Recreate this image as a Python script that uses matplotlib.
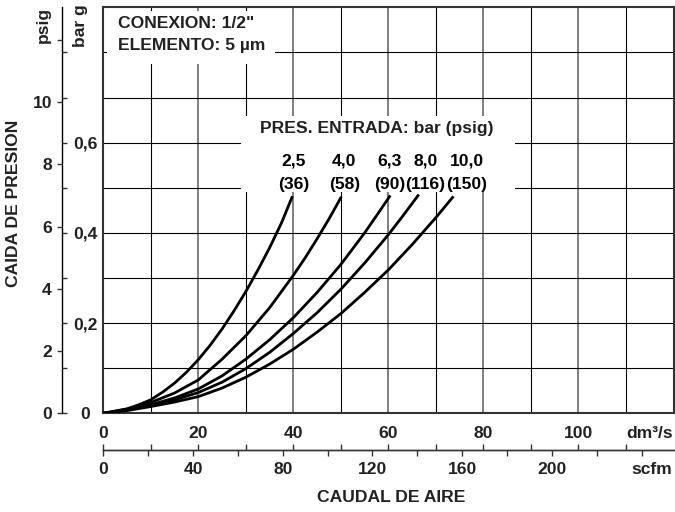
import matplotlib
matplotlib.use("Agg")
import matplotlib.pyplot as plt
from matplotlib.patches import Rectangle

plt.rcParams['font.family'] = ['Liberation Sans', 'DejaVu Sans']
plt.rcParams['font.weight'] = 'bold'
plt.rcParams['font.size'] = 12.6

# ------------------------------------------------------------
# datos: caudal (dm3/s) vs caida (bar g)
# ------------------------------------------------------------
flow_25 = [0, 5, 7.5, 10, 12.5, 15, 17.5, 20, 22.5, 25, 27.5, 30, 32.5, 35, 37.5, 39.8]
drop_25 = [0, 0.010, 0.019, 0.030, 0.047, 0.067, 0.091, 0.119, 0.151, 0.187, 0.227,
           0.270, 0.317, 0.367, 0.422, 0.481]

flow_40 = [0, 5, 10, 15, 20, 25, 30, 35, 40, 42.5, 45, 47.5, 50.1]
drop_40 = [0, 0.009, 0.024, 0.045, 0.074, 0.120, 0.172, 0.234, 0.306, 0.345, 0.387,
           0.431, 0.48]

flow_63 = [0, 5, 10, 15, 20, 25, 30, 35, 40, 45, 50, 55, 57.5, 60.4]
drop_63 = [0, 0.008, 0.019, 0.034, 0.054, 0.083, 0.120, 0.163, 0.212, 0.268, 0.330,
           0.400, 0.438, 0.483]

flow_80 = [0, 5, 10, 15, 20, 25, 30, 35, 40, 45, 50, 55, 60, 63, 66.4]
drop_80 = [0, 0.007, 0.017, 0.030, 0.046, 0.069, 0.099, 0.135, 0.177, 0.223, 0.275,
           0.333, 0.396, 0.437, 0.485]

flow_100 = [0, 5, 10, 15, 20, 25, 30, 35, 40, 45, 50, 55, 60, 65, 70, 73.7]
drop_100 = [0, 0.006, 0.015, 0.025, 0.037, 0.056, 0.080, 0.109, 0.142, 0.180, 0.221,
            0.268, 0.318, 0.374, 0.434, 0.481]

curves = [(flow_25, drop_25), (flow_40, drop_40), (flow_63, drop_63),
          (flow_80, drop_80), (flow_100, drop_100)]

pres_bar = ["2,5", "4,0", "6,3", "8,0", "10,0"]
pres_psig = ["(36)", "(58)", "(90)", "(116)", "(150)"]
label_x = [40.1, 50.7, 60.2, 67.8, 76.5]

flow_ticks = [0, 20, 40, 60, 80, 100]
grid_x = [10, 20, 30, 40, 50, 60, 70, 80, 90, 100, 110]
grid_y = [0.1, 0.2, 0.3, 0.4, 0.5, 0.6, 0.7, 0.8]

bar_ticks = [0, 0.1, 0.2, 0.3, 0.4, 0.5, 0.6, 0.7, 0.8]
bar_labels = ["0", "", "0,2", "", "0,4", "", "0,6", "", ""]
psig_ticks = [0, 2, 4, 6, 8, 10, 12]
psig_labels = ["0", "2", "4", "6", "8", "10", ""]
scfm_major = [0, 40, 80, 120, 160, 200]
scfm_minor = [20, 60, 100, 140, 180, 220, 240]

BAR_TO_PSI = 14.5038
DM3S_TO_SCFM = 2.1189

TXT = '#222222'
W, H = 675, 512


def fig_xy(x, y):
    """pixel -> fraccion de figura"""
    return x / W, 1 - y / H


fig = plt.figure(figsize=(W / 100, H / 100), dpi=100)
left, right, top, bottom = 103.3, 673.5, 7.3, 413.3
ax = fig.add_axes([left / W, 1 - bottom / H, (right - left) / W, (bottom - top) / H])
ax.set_xlim(0, 120)
ax.set_ylim(0, 0.9)

for s in ax.spines.values():
    s.set_color('#333333')
    s.set_linewidth(1.5)

# rejilla
for gx in grid_x:
    if gx % 20 == 0:
        ax.axvline(gx, color='#6a6a6a', lw=1.2, zorder=1)
    else:
        ax.axvline(gx, color='black', lw=0.8, zorder=1)
for gy in grid_y:
    ax.axhline(gy, color='black', lw=0.8, zorder=1)

# recuadros blancos que tapan la rejilla
ax.add_patch(Rectangle((0.8, 0.774), 35.4, 0.117, facecolor='white',
                       edgecolor='none', zorder=2))
ax.add_patch(Rectangle((28.9, 0.49), 57.7, 0.168, facecolor='white',
                       edgecolor='none', zorder=2))

# curvas
for fx, dy in curves:
    ax.plot(fx, dy, color='black', lw=2.0, solid_capstyle='butt',
            solid_joinstyle='round', zorder=3)

# textos internos
ax.text(3.1, 0.864, 'CONEXION: 1/2"', ha='left', va='center', color=TXT, zorder=4)
ax.text(3.1, 0.815, 'ELEMENTO: 5 \u00b5m', ha='left', va='center', color=TXT, zorder=4)
ax.text(57.6, 0.632, 'PRES. ENTRADA: bar (psig)', ha='center', va='center',
        color=TXT, zorder=4)
for lx, pb, pp in zip(label_x, pres_bar, pres_psig):
    ax.text(lx, 0.559, pb, ha='center', va='center', color='black', zorder=4)
    ax.text(lx, 0.507, pp, ha='center', va='center', color='black', zorder=4)

# eje x principal (dm3/s)
ax.set_xticks(flow_ticks)
ax.set_yticks([])
ax.tick_params(axis='x', length=0, pad=9, labelcolor=TXT, labelsize=12.6)

# eje scfm
loc_x = -(450 - bottom) / (bottom - top)
ax_scfm = ax.secondary_xaxis(loc_x, functions=(lambda q: q * DM3S_TO_SCFM,
                                               lambda s: s / DM3S_TO_SCFM))
ax_scfm.set_xticks(scfm_major)
ax_scfm.set_xticks(scfm_minor, minor=True)
ax_scfm.tick_params(axis='x', which='both', direction='out', length=4.3, width=1,
                    color='#333333', pad=4.5, labelcolor=TXT, labelsize=12.6)
ax_scfm.spines['bottom'].set_color('#333333')
ax_scfm.spines['bottom'].set_linewidth(1)

ax_up = ax.secondary_xaxis(loc_x)
ax_up.set_xticks(grid_x + [0])
ax_up.tick_params(axis='x', direction='in', length=4.3, width=1, color='#333333',
                  labelbottom=False)
ax_up.spines['bottom'].set_color('#333333')
ax_up.spines['bottom'].set_linewidth(1)

# ejes verticales psig / bar g
loc_y = (62 - left) / (right - left)
ax_psi = ax.secondary_yaxis(loc_y, functions=(lambda b: b * BAR_TO_PSI,
                                              lambda p: p / BAR_TO_PSI))
ax_psi.set_yticks(psig_ticks, psig_labels)
ax_psi.tick_params(axis='y', direction='out', length=3.6, width=1, color='#333333',
                   pad=3.6, labelcolor=TXT, labelsize=12.6)
ax_psi.spines['left'].set_color('#333333')
ax_psi.spines['left'].set_linewidth(1)

ax_bar = ax.secondary_yaxis(loc_y)
ax_bar.set_alignment('right')
ax_bar.set_yticks(bar_ticks, bar_labels)
ax_bar.tick_params(axis='y', direction='out', length=3.6, width=1, color='#333333',
                   pad=13, labelcolor=TXT, labelsize=12.6)
for lab in ax_bar.get_yticklabels():
    lab.set_horizontalalignment('center')

# rotulos de ejes
fig.text(*fig_xy(43, 25), 'psig', rotation=90, ha='center', va='center', color=TXT)
fig.text(*fig_xy(80, 26), 'bar g', rotation=90, ha='center', va='center', color=TXT)
fig.text(*fig_xy(14, 203), 'CAIDA DE PRESION', rotation=90, ha='center', va='center',
         color=TXT)
fig.text(*fig_xy(673, 433), 'dm\u00b3/s', ha='right', va='center', color=TXT)
fig.text(*fig_xy(672, 470), 'scfm', ha='right', va='center', color=TXT)
fig.text(*fig_xy(391, 497), 'CAUDAL DE AIRE', ha='center', va='center', color=TXT)

fig.savefig('out.png', dpi=100)
